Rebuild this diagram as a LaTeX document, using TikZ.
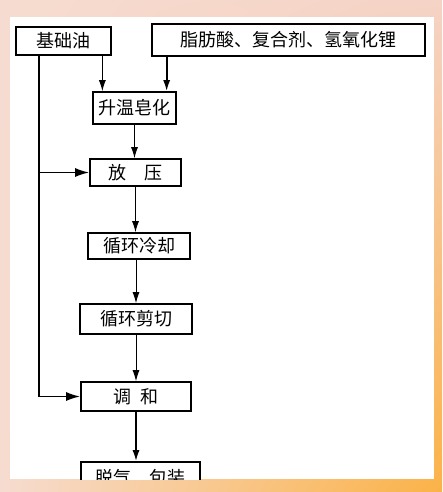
\documentclass[tikz,border=0pt]{standalone}
\usepackage{fontspec}
\newfontfamily\cjk{Noto Sans CJK SC}
\usetikzlibrary{positioning,arrows.meta,calc,shadings}
\definecolor{framepeach}{HTML}{F6DCD0}
\definecolor{framerose}{HTML}{F5D3C6}
\definecolor{frameorange}{HTML}{FBB247}

\begin{document}
\begin{tikzpicture}[
    x=1pt, y=-1pt,
    box/.style={draw, line width=1.6pt, fill=white, inner sep=0pt, font=\cjk\fontsize{18}{21}\selectfont},
    arrow/.style={-{Latex[length=11pt,width=7pt]}, line width=1pt},
    thickarrow/.style={-{Latex[length=11pt,width=7pt]}, line width=1.7pt},
    sidearrow/.style={-{Latex[length=14pt,width=9pt]}, line width=1.8pt},
]
\useasboundingbox (0,0) rectangle (442,492);

% === Frame and white panel ===
\shade[upper left=framepeach, upper right=framerose, lower left=framepeach, lower right=frameorange] (0,0) rectangle (442,492);
\fill[white] (10,17) rectangle (434,479);

\begin{scope}
\clip (10,17) rectangle (434,479);

% === Inputs ===
\node[box, minimum width=95pt, minimum height=28pt] (oil) at (63.5,41) {基础油};
\node[box, minimum width=273pt, minimum height=32pt] (acid) at (288.5,40) {脂肪酸、复合剂、氢氧化锂};

% === Process chain ===
\node[box, minimum width=83pt, minimum height=32pt] (sapon) at (134.5,108) {升温皂化};
\node[box, minimum width=91pt, minimum height=27pt] (release) at (135.5,172.5) {放\quad 压};
\node[box, minimum width=102pt, minimum height=26pt] (cool) at (139,246) {循环冷却};
\node[box, minimum width=112pt, minimum height=30pt] (shear) at (136,319) {循环剪切};
\node[box, minimum width=110pt, minimum height=29pt] (blend) at (136,396.5) {调\enspace 和};
\node[box, minimum width=119pt, minimum height=32pt] (degas) at (140.5,478) {脱气、包装};

% feed points on top of the saponification box
\coordinate (feedoil) at ($(sapon.north west)!0.12!(sapon.north east)$);
\coordinate (feedacid) at ($(sapon.north west)!0.88!(sapon.north east)$);
\coordinate (trunk) at ($(oil.south west)+(24,0)$);

\draw[arrow] (oil.south -| feedoil) -- (feedoil);
\draw[thickarrow] (acid.south -| feedacid) -- (feedacid);
\draw[arrow] (sapon.south) -- (sapon.south |- release.north);
\draw[arrow] (release.south) -- (release.south |- cool.north);
\draw[arrow] (shear.north |- cool.south) -- (shear.north);
\draw[arrow] (shear.south) -- (blend.north);
\draw[thickarrow] (blend.south) -- (blend.south |- degas.north);

% === Base oil bypass ===
\draw[sidearrow] (trunk) |- (blend.west);
\draw[sidearrow] (trunk |- release.west) -- (release.west);
\end{scope}

\end{tikzpicture}
\end{document}
